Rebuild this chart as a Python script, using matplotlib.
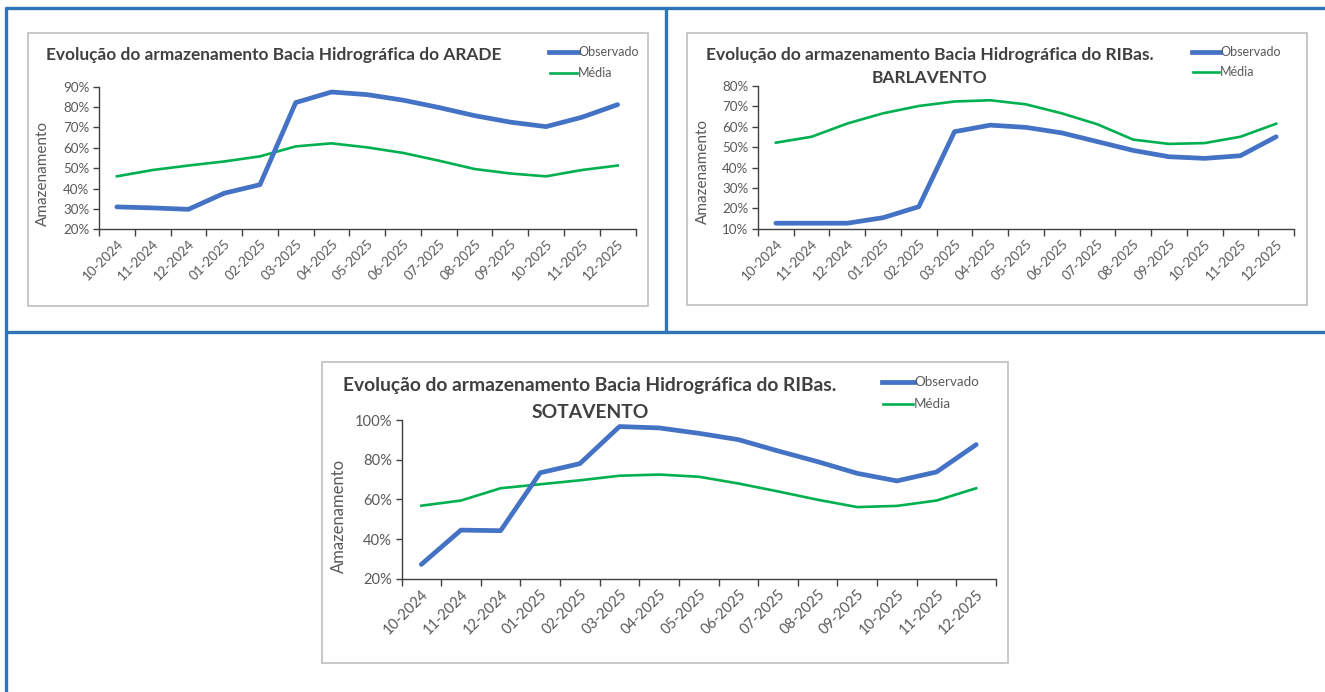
import matplotlib
matplotlib.use("Agg")
import matplotlib.pyplot as plt
from matplotlib.lines import Line2D
from matplotlib.patches import Rectangle

plt.rcParams['font.family'] = ['Lato', 'DejaVu Sans']

# ---------------- data ----------------
months = ["10-2024", "11-2024", "12-2024", "01-2025", "02-2025", "03-2025", "04-2025",
          "05-2025", "06-2025", "07-2025", "08-2025", "09-2025", "10-2025", "11-2025", "12-2025"]

arade_obs = [31.0, 30.5, 29.8, 37.7, 41.9, 82.2, 87.4, 86.1, 83.4, 79.8, 75.8, 72.6, 70.4, 75.0, 81.2]
arade_med = [46.0, 49.1, 51.3, 53.3, 55.8, 60.7, 62.2, 60.2, 57.5, 53.7, 49.6, 47.4, 46.0, 49.1, 51.3]

barl_obs = [12.7, 12.7, 12.7, 15.4, 20.8, 57.6, 60.8, 59.7, 57.0, 52.7, 48.4, 45.3, 44.5, 45.8, 55.1]
barl_med = [52.2, 55.1, 61.6, 66.6, 70.2, 72.4, 73.0, 71.0, 66.6, 61.2, 53.7, 51.6, 52.0, 55.1, 61.5]

sota_obs = [27.2, 44.5, 44.2, 73.4, 78.0, 96.7, 96.0, 93.3, 90.1, 84.4, 79.0, 73.1, 69.3, 73.8, 87.6]
sota_med = [56.8, 59.4, 65.6, 67.6, 69.6, 71.9, 72.5, 71.4, 68.0, 64.0, 59.8, 56.1, 56.7, 59.4, 65.6]

arade_yticks = [20, 30, 40, 50, 60, 70, 80, 90]
barl_yticks = [10, 20, 30, 40, 50, 60, 70, 80]
sota_yticks = [20, 40, 60, 80, 100]

title_main = "Evolução do armazenamento Bacia Hidrográfica do"
ylabel = "Amazenamento"
legend_labels = ["Observado", "Média"]

# ---------------- styling ----------------
W, H = 1325, 692
BLUE = "#4472C4"
GREEN = "#00B050"
BORDER = "#2E75B6"
FRAME = "#BFBFBF"
TXT = "#595959"
TITLE = "#404040"
AXC = "#404040"

fig = plt.figure(figsize=(W / 100, H / 100), dpi=100)
fig.patch.set_facecolor("white")


def fx(x):
    return x / W


def fy(y):
    return 1 - y / H


def hline(x0, x1, y, **kw):
    fig.add_artist(Line2D([fx(x0), fx(x1)], [fy(y), fy(y)], transform=fig.transFigure, **kw))


def vline(x, y0, y1, **kw):
    fig.add_artist(Line2D([fx(x), fx(x)], [fy(y0), fy(y1)], transform=fig.transFigure, **kw))


# table borders
bw = 2.4
hline(5, W, 8, color=BORDER, lw=bw, solid_capstyle="butt")
vline(6, 7, H, color=BORDER, lw=bw, solid_capstyle="butt")
vline(666, 7, 333, color=BORDER, lw=bw, solid_capstyle="butt")
hline(5, W, 332, color=BORDER, lw=bw, solid_capstyle="butt")


def frame(x0, y0, x1, y1):
    fig.add_artist(Rectangle((fx(x0), fy(y1)), fx(x1) - fx(x0), fy(y0) - fy(y1),
                             transform=fig.transFigure, fill=False, ec=FRAME, lw=1.2))


def chart(rect, obs, med, yticks, title_lines, title_pos, legend_pos, ylab_pos,
          title_fs, tick_fs, ylab_fs, leg_fs):
    x0, y0, x1, y1 = rect
    ax = fig.add_axes([fx(x0), fy(y1), fx(x1) - fx(x0), fy(y0) - fy(y1)])
    n = len(months)
    xs = list(range(n))
    ax.plot(xs, med, color=GREEN, lw=1.9, solid_joinstyle="round", zorder=3)
    ax.plot(xs, obs, color=BLUE, lw=3.4, solid_joinstyle="round", solid_capstyle="round", zorder=4)
    ax.set_xlim(-0.5, n - 0.5)
    ax.set_ylim(yticks[0], yticks[-1])
    ax.set_yticks(yticks)
    ax.set_yticklabels([f"{t}%" for t in yticks], color=TXT, fontsize=tick_fs)
    ax.set_xticks([i - 0.5 for i in range(n + 1)])
    ax.set_xticklabels([])
    ax.set_xticks(xs, minor=True)
    ax.set_xticklabels(months, minor=True, rotation=45, ha="right", va="top",
                       rotation_mode="anchor", color=TXT, fontsize=tick_fs)
    ax.tick_params(axis="x", which="minor", length=0, pad=6)
    ax.tick_params(axis="x", which="major", length=5, width=1, color=AXC, direction="out")
    ax.tick_params(axis="y", length=4, width=1, color=AXC, direction="out", pad=3)
    for s in ("top", "right"):
        ax.spines[s].set_visible(False)
    for s in ("left", "bottom"):
        ax.spines[s].set_color(AXC)
        ax.spines[s].set_linewidth(1.0)
    ax.set_facecolor("none")
    # title
    (tx, ty), second = title_pos
    fig.text(fx(tx), fy(ty), title_lines[0], ha="left", va="center",
             fontsize=title_fs, fontweight="bold", color=TITLE)
    if len(title_lines) > 1:
        (sx, sy) = second
        fig.text(fx(sx), fy(sy), title_lines[1], ha="center", va="center",
                 fontsize=title_fs, fontweight="bold", color=TITLE)
    # legend
    lx0, lx1, ly1, ly2 = legend_pos
    fig.add_artist(Line2D([fx(lx0), fx(lx1)], [fy(ly1), fy(ly1)], color=BLUE, lw=3.4,
                          transform=fig.transFigure))
    fig.add_artist(Line2D([fx(lx0 + 1), fx(lx1 - 1)], [fy(ly2), fy(ly2)], color=GREEN, lw=1.9,
                          transform=fig.transFigure))
    fig.text(fx(lx1), fy(ly1), legend_labels[0], ha="left", va="center", fontsize=leg_fs, color=TXT)
    fig.text(fx(lx1), fy(ly2), legend_labels[1], ha="left", va="center", fontsize=leg_fs, color=TXT)
    # y label
    fig.text(fx(ylab_pos[0]), fy(ylab_pos[1]), ylabel, rotation=90, ha="center", va="center",
             fontsize=ylab_fs, color=TXT)
    return ax


# frames
frame(28, 33, 648, 306)
frame(687, 33, 1307, 305)
frame(322, 362, 1008, 663)

chart((99, 86.7, 635.5, 229.3), arade_obs, arade_med, arade_yticks,
      [title_main + " ARADE"], ((46, 55), None),
      (549, 578, 52, 73), (43, 173), 12.4, 9.6, 11, 9)

chart((758, 86, 1294, 228.7), barl_obs, barl_med, barl_yticks,
      [title_main + " RIBas.", "BARLAVENTO"], ((706, 55), (929, 78)),
      (1192, 1220, 52, 72), (703, 172), 12.5, 9.6, 11, 9)

chart((401.5, 420, 996, 578.7), sota_obs, sota_med, sota_yticks,
      [title_main + " RIBas.", "SOTAVENTO"], ((343.5, 386), (590, 412)),
      (882, 914, 382, 404), (339, 516), 13.9, 10.6, 12, 9.6)

fig.savefig("out.png", dpi=100, facecolor="white")
